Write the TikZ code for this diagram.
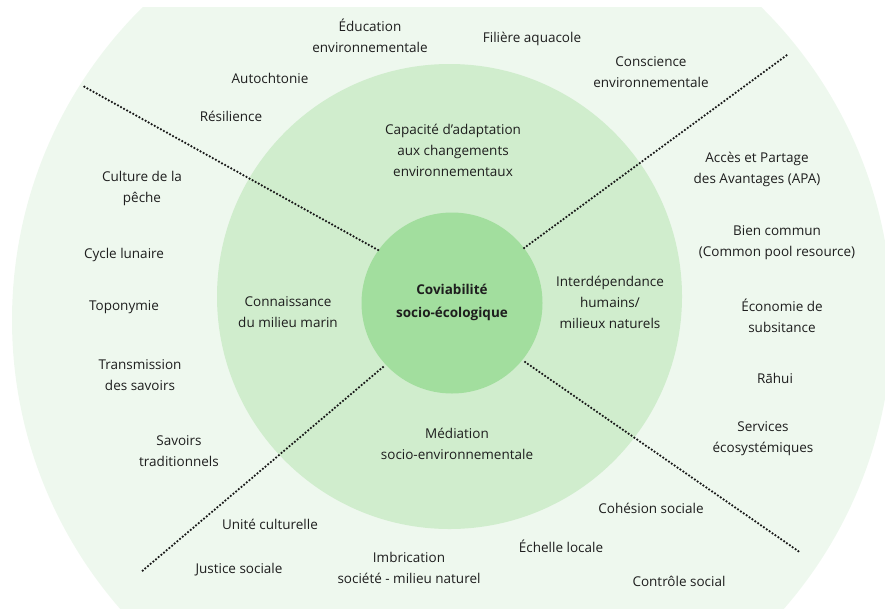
\documentclass[tikz,border=0pt]{standalone}
\usepackage{fontspec}
\setmainfont{Open Sans}
\definecolor{outerg}{HTML}{EEF8EE}
\definecolor{midg}{HTML}{D0EDCD}
\definecolor{innerg}{HTML}{A2DE9E}
\definecolor{txt}{HTML}{1E1E1E}
\tikzset{
  lbl/.style={align=center, text=txt, font=\fontsize{13.5}{21}\selectfont, inner sep=0pt},
  center lbl/.style={lbl, font=\fontsize{13.5}{23}\selectfont\bfseries},
  sep line/.style={line width=2.5pt, dash pattern=on 0pt off 3.5pt, line cap=round, black!90}
}
\begin{document}
\begin{tikzpicture}[x=1pt,y=-1pt]
\useasboundingbox (0,0) rectangle (885,608);
\begin{scope}
  \clip (0,7) rectangle (885,608);
  \fill[outerg] (452,320) circle[radius=440];
\end{scope}
\fill[midg] (449.5,296.5) circle[radius=232.5];
\node[circle, fill=innerg, minimum size=181pt, inner sep=0pt] (core) at (452,303) {};

% separators
\coordinate (ulA) at (378,250); \coordinate (ulB) at (83,86);
\coordinate (urA) at (524,248); \coordinate (urB) at (787,55);
\coordinate (llA) at (383,367); \coordinate (llB) at (141,572);
\coordinate (lrA) at (525,362); \coordinate (lrB) at (801,553);
\draw[sep line] (ulA) -- (ulB);
\draw[sep line] (urA) -- (urB);
\draw[sep line] (llA) -- (llB);
\draw[sep line] (lrA) -- (lrB);

% center
\node[center lbl] (coviab) at (452,302) {Coviabilité\\socio-écologique};

% middle ring
\node[lbl] (capa) at (453,150) {Capacité d’adaptation\\aux changements\\environnementaux};
\node[lbl] (conn) at (288,312) {Connaissance\\du milieu marin};
\node[lbl] (inter) at (610,302) {Interdépendance\\humains/\\milieux naturels};
\node[lbl] (medi) at (457,444) {Médiation\\socio-environnementale};

% outer ring top
\node[lbl] (educ) at (370,36) {Éducation\\environnementale};
\node[lbl] (filiere) at (532,39) {Filière aquacole};
\node[lbl] (consc) at (651,72) {Conscience\\environnementale};
\node[lbl] (autoch) at (270,78) {Autochtonie};
\node[lbl] (resil) at (231,116) {Résilience};

% outer ring left
\node[lbl] (culture) at (142,188) {Culture de la\\pêche};
\node[lbl] (cycle) at (124,255) {Cycle lunaire};
\node[lbl] (topo) at (124,307) {Toponymie};
\node[lbl] (trans) at (140,375) {Transmission\\des savoirs};
\node[lbl] (savoirs) at (179,451) {Savoirs\\traditionnels};

% outer ring right
\node[lbl] (acces) at (757,169) {Accès et Partage\\des Avantages (APA)};
\node[lbl] (bien) at (777,243) {Bien commun\\(Common pool resource)};
\node[lbl] (eco) at (782,316) {Économie de\\subsitance};
\node[lbl] (rahui) at (775,378) {Rāhui};
\node[lbl] (serv) at (763,439) {Services\\écosystémiques};

% outer ring bottom
\node[lbl] (cohes) at (651,508) {Cohésion sociale};
\node[lbl] (unite) at (270,524) {Unité culturelle};
\node[lbl] (echelle) at (561,546) {Échelle locale};
\node[lbl] (justice) at (239,570) {Justice sociale};
\node[lbl] (imbr) at (409,568) {Imbrication\\société - milieu naturel};
\node[lbl] (control) at (679,581) {Contrôle social};
\end{tikzpicture}
\end{document}
